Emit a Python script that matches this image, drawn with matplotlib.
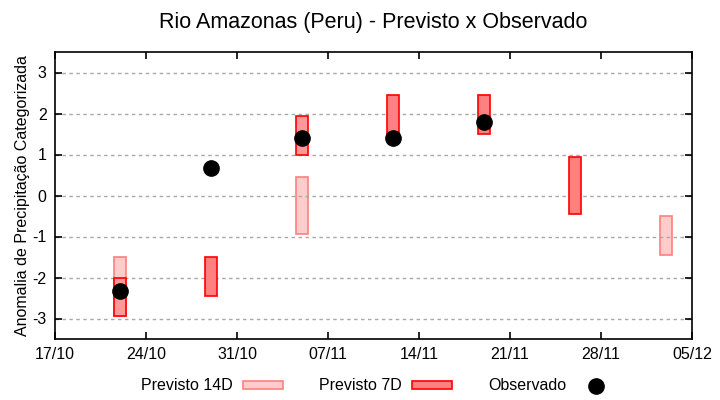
import numpy as np
import matplotlib
matplotlib.use("Agg")
import matplotlib.pyplot as plt
import matplotlib.dates as mdates
from matplotlib.patches import Patch
from matplotlib.lines import Line2D
import datetime as dt

plt.rcParams['font.family'] = ['Liberation Sans', 'DejaVu Sans']

# forecast 14 days ahead (bottom, top)
p14_dates = ["2021-10-22", "2021-11-05", "2021-12-03"]
p14_low = [-2.95, -0.95, -1.45]
p14_high = [-1.5, 0.45, -0.5]

# forecast 7 days ahead
p7_dates = ["2021-10-22", "2021-10-29", "2021-11-05", "2021-11-12",
            "2021-11-19", "2021-11-26"]
p7_low = [-2.95, -2.45, 1.0, 1.4, 1.5, -0.45]
p7_high = [-2.0, -1.5, 1.95, 2.45, 2.45, 0.95]
p7_fill = ["#ff9999", "#ff8080", "#ff9999", "#ff8080", "#ff8080", "#ff8080"]

# observed
obs_dates = ["2021-10-22", "2021-10-29", "2021-11-05", "2021-11-12", "2021-11-19"]
obs_vals = [-2.32, 0.68, 1.41, 1.41, 1.8]

xticks = ["2021-10-17", "2021-10-24", "2021-10-31", "2021-11-07",
          "2021-11-14", "2021-11-21", "2021-11-28", "2021-12-05"]


def to_num(lst):
    return mdates.date2num([dt.datetime.strptime(d, "%Y-%m-%d") for d in lst])


fig = plt.figure(figsize=(7.2, 4), dpi=100)
ax = fig.add_axes([0.0764, 0.1525, 0.8847, 0.7175])

w = 0.95
x14 = to_num(p14_dates)
ax.bar(x14, np.array(p14_high) - np.array(p14_low), bottom=p14_low, width=w,
       color="#ffcccc", edgecolor="#ff7f7f", linewidth=1.2, zorder=2)

x7 = to_num(p7_dates)
ax.bar(x7, np.array(p7_high) - np.array(p7_low), bottom=p7_low, width=w,
       color=p7_fill, edgecolor="#ff0000", linewidth=1.2, zorder=3)

ax.plot(to_num(obs_dates), obs_vals, "o", color="black", markersize=11,
        linestyle="none", zorder=5)

xt = to_num(xticks)
ax.set_xlim(xt[0], xt[-1])
ax.set_xticks(xt)
ax.set_xticklabels([d[8:10] + "/" + d[5:7] for d in xticks])
ax.set_ylim(-3.5, 3.5)
ax.set_yticks([-3, -2, -1, 0, 1, 2, 3])
ax.set_yticklabels(["-3", "-2", "-1", "0", "1", "2", "3"])

ax.grid(axis="y", color="#a8a8a8", linestyle=(0, (2.5, 2.5)), linewidth=1, zorder=4)
ax.set_axisbelow(False)
for sp in ax.spines.values():
    sp.set_linewidth(1.2)
    sp.set_zorder(6)
ax.tick_params(direction="in", length=5, width=1.2, labelsize=11.5,
               top=True, right=True, pad=6)

ax.set_ylabel("Anomalia de Precipitação Categorizada", fontsize=11.5, labelpad=2)
fig.suptitle("Rio Amazonas (Peru) - Previsto x Observado", fontsize=15.5,
             x=0.519, y=0.97)

handles = [Patch(facecolor="#ffcccc", edgecolor="#ff7f7f", linewidth=1.2),
           Patch(facecolor="#ff8080", edgecolor="#ff0000", linewidth=1.2),
           Line2D([], [], marker="o", color="black", markersize=11, linestyle="none")]
fig.legend(handles, ["Previsto 14D", "Previsto 7D", "Observado"],
           loc="center", bbox_to_anchor=(0.526, 0.035), ncol=3, frameon=False,
           markerfirst=False, fontsize=11.5, handlelength=2.5, handleheight=0.4,
           handletextpad=0.6, columnspacing=2.3)

fig.savefig("out.png", dpi=100)
